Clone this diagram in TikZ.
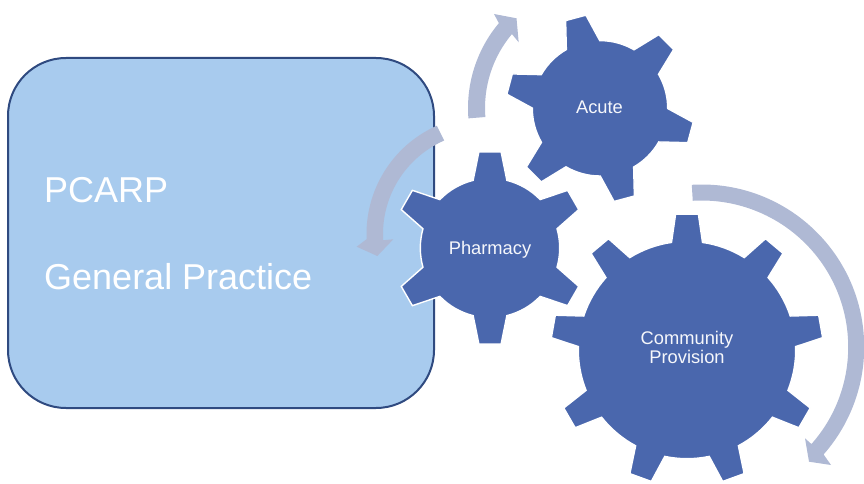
\documentclass[tikz,border=0pt]{standalone}
\usepackage{fontspec}
\setmainfont{Liberation Sans}
\definecolor{boxfill}{HTML}{A8CBEE}
\definecolor{boxline}{HTML}{2F4A80}
\definecolor{gearfill}{HTML}{4A67AD}
\definecolor{arrowfill}{HTML}{AFB9D4}

\begin{document}
\begin{tikzpicture}[
    x=1pt, y=1pt,
    practicebox/.style={draw=boxline, fill=boxfill, line width=2pt, rounded corners=58pt},
    gearbody/.style={fill=gearfill, draw=white, line width=1.4pt, line join=miter},
    bendarrow/.style={fill=arrowfill},
    bigtext/.style={text=white, anchor=base west, inner sep=0pt, font=\fontsize{36}{40}\selectfont},
    geartext/.style={text=white!95!gearfill, align=center, inner sep=0pt, font=\fontsize{18.3}{19}\selectfont}
  ]
  \useasboundingbox (0,0) rectangle (864,-484);

  \draw[practicebox] (8,-58) rectangle (434,-408);
  \node[bigtext] (pcarp) at (44,-202.3) {PCARP};
  \node[bigtext] (general) at (44,-289.3) {General Practice};

  % arcs of the three arrows
  \coordinate (backarc) at (485,-234);
  \coordinate (toparc) at (600,-108);
  \coordinate (rightarc) at (701.7,-347);

  \fill[bendarrow] ([shift={(114:118.5)}]backarc) arc[start angle=114, end angle=182.5, radius=118.5]
    -- (356.7,-246.7) -- (377.3,-256) -- (393.3,-239.3)
    -- ([shift={(183.5:102)}]backarc) arc[start angle=183.5, end angle=113.6, radius=102] -- cycle;
  \fill[bendarrow] ([shift={(184.5:132)}]toparc) arc[start angle=184.5, end angle=140, radius=132]
    -- (494,-14) -- (516.5,-18.3) -- (518.7,-42.3)
    -- ([shift={(140:115)}]toparc) arc[start angle=140, end angle=184.5, radius=115] -- cycle;
  \fill[bendarrow] ([shift={(93.5:162.5)}]rightarc) arc[start angle=93.5, end angle=-41.4, radius=162.5]
    -- (831,-465) -- (809,-461.7) -- (805,-438.3)
    -- ([shift={(-41.5:146.5)}]rightarc) arc[start angle=-41.5, end angle=93.5, radius=146.5] -- cycle;

  % x / y / first tooth / teeth / body / tip / half base / half tip
  \foreach \cx/\cy/\rot/\nteeth/\rbody/\rtip/\dbase/\dtip in {
      600/-108.3/105/6/67.7/94.2/14.8/6.4,
      490/-248/90/6/69.7/96.7/14/6.6,
      687/-350/90/9/108.7/136.2/8.2/4.8} {
    \pgfmathsetmacro{\stp}{360/\nteeth}
    \draw[gearbody, shift={(\cx,\cy)}] ({\rot-\dbase}:\rbody)
      \foreach \t [evaluate=\t as \a using {\rot+(\t-1)*\stp}] in {1,...,\nteeth} {
        -- ({\a-\dtip}:\rtip) -- ({\a+\dtip}:\rtip) -- ({\a+\dbase}:\rbody)
        arc[start angle=\a+\dbase, end angle=\a+\stp-\dbase, radius=\rbody]
      } -- cycle;
  }

  \node[geartext] (acute) at (599.5,-107.5) {Acute};
  \node[geartext] (pharmacy) at (490,-249.5) {Pharmacy};
  \node[geartext] (community) at (687,-347.5) {Community\\Provision};
\end{tikzpicture}
\end{document}
